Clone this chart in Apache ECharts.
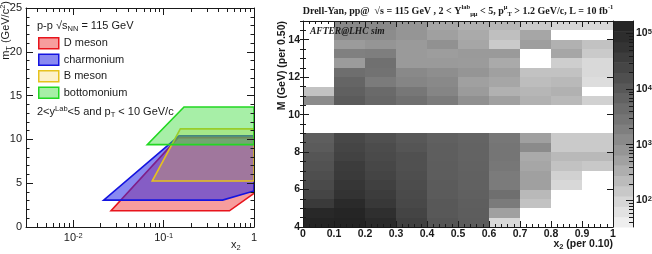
<!DOCTYPE html>
<html><head><meta charset="utf-8">
<script src="https://cdn.jsdelivr.net/npm/echarts@6/dist/echarts.min.js"></script>
<style>html,body{margin:0;padding:0;background:#fff}#c{width:652px;height:254px}</style>
</head><body><div id="c"></div>
<script>
// ---------- Left panel: kinematic coverage (x2 vs mT) ----------
const dMesonX      = [0.0262, 0.535, 1, 1, 0.145];
const dMesonY      = [1.85, 1.85, 3.83, 10.2, 10.2];
const charmoniumX  = [0.0217, 0.449, 1, 1, 0.148];
const charmoniumY  = [3.07, 3.07, 4.12, 10.4, 10.4];
const bMesonX      = [0.0748, 1, 1, 0.153];
const bMesonY      = [5.25, 5.25, 11.2, 11.2];
const bottomoniumX = [0.0659, 1, 1, 0.168];
const bottomoniumY = [9.4, 9.4, 13.7, 13.7];
const legendLabels = ['D meson', 'charmonium', 'B meson', 'bottomonium'];

// ---------- Right panel: Drell-Yan counts per (x2, M) bin ----------
const x2BinLow   = [0, 0.1, 0.2, 0.3, 0.4, 0.5, 0.6, 0.7, 0.8, 0.9];
const massBinLow = [4, 4.5, 5, 5.5, 6, 6.5, 7, 7.5, 8, 8.5, 10.5, 11, 11.5, 12, 12.5, 13, 13.5, 14, 14.5];
const dyX2_0 = [150000, 115000, 44000, 25000, 20000, 16600, 14000, 12000, 9500, 8000, 1200, 180, null, null, null, null, null, null, null];
const dyX2_1 = [160000, 140000, 105000, 63000, 52000, 44000, 40000, 29000, 25000, 22000, 9500, 7400, 5900, 4000, 660, 1850, 660, 1150, 1300];
const dyX2_2 = [105000, 80000, 48000, 40000, 32000, 26000, 23000, 20000, 18000, 15000, 5600, 4800, 2300, 3400, 3700, 2000, 800, 1150, 1300];
const dyX2_3 = [32000, 26000, 22000, 20000, 18000, 16500, 15000, 15000, 12000, 10500, 3700, 2700, 1500, 1300, 690, 690, 690, 800, 800];
const dyX2_4 = [12000, 10500, 10500, 9500, 9500, 8700, 8700, 8000, 8000, 7400, 2300, 1500, 1300, 1050, 690, 620, 950, 550, 450];
const dyX2_5 = [9000, 8500, 8000, 7500, 7000, 7000, 6800, 6500, 6500, 6200, 1000, 660, 550, 800, 660, 690, 450, 400, 310];
const dyX2_6 = [87, 550, 2300, 3800, 2300, 2300, 2700, 2900, 2900, 2700, 550, 310, 450, 550, 400, 690, 140, 200, 260];
const dyX2_7 = [null, null, 180, 240, 550, 550, 450, 400, 1200, 550, 310, 260, 210, 180, null, null, 600, 450, 140];
const dyX2_8 = [null, null, null, null, 90, 112, 180, 240, 140, 140, 240, 310, 240, 180, 123, 450, 310, null, 95];
const dyX2_9 = [null, null, null, null, null, null, 150, 240, 140, 140, 112, null, 76, 87, 87, 140, 180, null, 87];
const x2BinWidth = 0.1, massBinWidth = 0.5;
const zMin = 33, zMax = 168000;

// ---------- styling ----------
const SANS = "'Liberation Sans', Arial, sans-serif";
const SERIF = "'Liberation Serif', 'Times New Roman', serif";
const INK = '#1a1a1a';
const palette = ['#f4f4f4', '#d6d6d6', '#b4b4b4', '#959595', '#7a7a7a', '#626262', '#4a4a4a', '#343434', '#222222'];

const polys = [
  {name: legendLabels[0], xs: dMesonX, ys: dMesonY, fill: 'rgba(240,60,60,0.5)', stroke: '#e8141c'},
  {name: legendLabels[1], xs: charmoniumX, ys: charmoniumY, fill: 'rgba(40,40,230,0.55)', stroke: '#1414e0'},
  {name: legendLabels[2], xs: bMesonX, ys: bMesonY, fill: 'rgba(245,200,40,0.25)', stroke: '#e6c21e'},
  {name: legendLabels[3], xs: bottomoniumX, ys: bottomoniumY, fill: 'rgba(60,220,60,0.45)', stroke: '#22d822'}
];

function logLabel(v) {
  const e = Math.round(Math.log10(v));
  if (Math.abs(v / Math.pow(10, e) - 1) > 1e-6) return '';
  if (e === 0) return '1';
  return '10{sup|' + e + '}';
}
function crisp(v) { return Math.round(v) + 0.5; }

// log-axis minor tick positions (axis decoration)
function logMinor(lo, hi) {
  const out = [];
  for (let d = Math.floor(Math.log10(lo)); d <= Math.ceil(Math.log10(hi)); d++) {
    for (let k = 2; k <= 9; k++) {
      const v = k * Math.pow(10, d);
      if (v > lo * 1.02 && v < hi * 0.98) out.push([v, v]);
    }
  }
  return out;
}

const dyColumns = [dyX2_0, dyX2_1, dyX2_2, dyX2_3, dyX2_4, dyX2_5, dyX2_6, dyX2_7, dyX2_8, dyX2_9];
const heatData = [];
dyColumns.forEach((col, i) => col.forEach((n, j) => {
  if (n != null) heatData.push([x2BinLow[i], massBinLow[j], Math.log10(n), n]);
}));

const zLogMin = Math.log10(zMin), zLogMax = Math.log10(zMax);
const nBands = 20, bandData = [];
for (let b = 0; b < nBands; b++) {
  const lo = zLogMin + (zLogMax - zLogMin) * b / nBands;
  const hi = zLogMin + (zLogMax - zLogMin) * (b + 1) / nBands;
  bandData.push([Math.pow(10, lo), Math.pow(10, hi), (lo + hi) / 2]);
}

const chart = echarts.init(document.getElementById('c'), null, {renderer: 'canvas', width: 652, height: 254});

const tickStyle = {color: INK, width: 1};
const leftLabel = {fontFamily: SANS, fontSize: 11, color: INK};
const boldLabel = {fontFamily: SANS, fontSize: 10.5, fontWeight: 'bold', color: INK};

const series = [];
polys.forEach((p, idx) => {
  series.push({
    type: 'custom', name: p.name, coordinateSystem: 'cartesian2d', xAxisIndex: 0, yAxisIndex: 0,
    data: p.xs.map((x, i) => [x, p.ys[i]]), encode: {x: 0, y: 1}, silent: true, z: 2 + idx,
    itemStyle: {color: p.fill, borderColor: p.stroke},
    renderItem: (params, api) => {
      if (params.dataIndex !== 0) return null;
      const pts = p.xs.map((x, i) => api.coord([x, p.ys[i]]));
      return {type: 'polygon', shape: {points: pts}, style: {fill: p.fill, stroke: p.stroke, lineWidth: 1.6}};
    }
  });
});
// minor log ticks on the left panel (bottom and top)
series.push({
  type: 'custom', coordinateSystem: 'cartesian2d', xAxisIndex: 0, yAxisIndex: 0, silent: true, z: 20,
  data: logMinor(0.003, 1), encode: {x: 0, y: 1},
  renderItem: (params, api) => {
    const v = api.value(0);
    const b = api.coord([v, 0]), t = api.coord([v, 25]);
    const x = crisp(b[0]);
    return {type: 'group', children: [
      {type: 'line', shape: {x1: x, y1: b[1], x2: x, y2: b[1] - 4}, style: {stroke: INK, lineWidth: 1}},
      {type: 'line', shape: {x1: x, y1: t[1], x2: x, y2: t[1] + 4}, style: {stroke: INK, lineWidth: 1}}
    ]};
  }
});
// heat map cells
series.push({
  type: 'custom', coordinateSystem: 'cartesian2d', xAxisIndex: 2, yAxisIndex: 2, silent: true, z: 2,
  dimensions: ['x2', 'M', 'logN', 'N'], data: heatData, encode: {x: 0, y: 1},
  renderItem: (params, api) => {
    const x0 = api.value(0), y0 = api.value(1);
    const p0 = api.coord([x0, y0]), p1 = api.coord([x0 + x2BinWidth, y0 + massBinWidth]);
    const L = Math.round(p0[0]), R = Math.round(p1[0]), B = Math.round(p0[1]), T = Math.round(p1[1]);
    return {type: 'rect', shape: {x: L, y: T, width: R - L, height: B - T}, style: {fill: api.visual('color')}};
  }
});
// colour bar bands
series.push({
  type: 'custom', coordinateSystem: 'cartesian2d', xAxisIndex: 4, yAxisIndex: 6, silent: true, z: 2,
  dimensions: ['lo', 'hi', 'logN'], data: bandData, encode: {y: 0},
  renderItem: (params, api) => {
    const p0 = api.coord([0, api.value(0)]), p1 = api.coord([1, api.value(1)]);
    return {type: 'rect', shape: {x: p0[0], y: p1[1], width: p1[0] - p0[0], height: p0[1] - p1[1] + 0.5}, style: {fill: api.visual('color')}};
  }
});
// colour bar minor ticks
series.push({
  type: 'custom', coordinateSystem: 'cartesian2d', xAxisIndex: 4, yAxisIndex: 6, silent: true, z: 20,
  data: logMinor(zMin, zMax).map(d => [1, d[0]]), encode: {x: 0, y: 1},
  renderItem: (params, api) => {
    const p = api.coord([1, api.value(1)]);
    const y = crisp(p[1]);
    return {type: 'line', shape: {x1: p[0], y1: y, x2: p[0] - 4, y2: y}, style: {stroke: INK, lineWidth: 1}};
  }
});

const supRich = {sup: {fontSize: 7.5, verticalAlign: 'top', fontFamily: SANS, color: INK, lineHeight: 8}};
const boldSupRich = {sup: {fontSize: 7.5, fontWeight: 'bold', verticalAlign: 'top', fontFamily: SANS, color: INK, lineHeight: 8}};

function valAxis(extra) {
  return Object.assign({
    type: 'value', z: 10,
    axisLine: {show: true, onZero: false, lineStyle: tickStyle},
    axisTick: {show: true, inside: true, length: 7, lineStyle: tickStyle},
    splitLine: {show: false}
  }, extra);
}

const option = {
  animation: false,
  backgroundColor: '#ffffff',
  grid: [
    {left: 26, top: 8, width: 228, height: 219, outerBoundsMode: 'none', containLabel: false},
    {left: 303, top: 21, width: 310, height: 206, outerBoundsMode: 'none', containLabel: false},
    {left: 614, top: 21, width: 19, height: 206, outerBoundsMode: 'none', containLabel: false}
  ],
  xAxis: [
    valAxis({gridIndex: 0, type: 'log', logBase: 10, min: 0.003, max: 1, position: 'bottom',
      axisLabel: {show: true, margin: 5, showMinLabel: false, formatter: logLabel, rich: supRich, ...leftLabel}}),
    valAxis({gridIndex: 0, type: 'log', logBase: 10, min: 0.003, max: 1, position: 'top', axisLabel: {show: false}}),
    valAxis({gridIndex: 1, min: 0, max: 1, interval: 0.1, position: 'bottom',
      axisTick: {show: true, inside: true, length: 6, lineStyle: tickStyle},
      minorTick: {show: true, splitNumber: 5, length: 3, lineStyle: tickStyle},
      axisLabel: {show: true, margin: 2, formatter: v => String(Math.round(v * 10) / 10), ...boldLabel}}),
    valAxis({gridIndex: 1, min: 0, max: 1, interval: 0.1, position: 'top',
      axisTick: {show: true, inside: true, length: 6, lineStyle: tickStyle},
      minorTick: {show: true, splitNumber: 5, length: 3, lineStyle: tickStyle},
      axisLabel: {show: false}}),
    {gridIndex: 2, type: 'value', min: 0, max: 1, show: false}
  ],
  yAxis: [
    valAxis({gridIndex: 0, min: 0, max: 25, interval: 5, position: 'left',
      minorTick: {show: true, splitNumber: 5, length: 3.5, lineStyle: tickStyle},
      axisLabel: {show: true, margin: 4, ...leftLabel}}),
    valAxis({gridIndex: 0, min: 0, max: 25, interval: 5, position: 'right',
      minorTick: {show: true, splitNumber: 5, length: 3.5, lineStyle: tickStyle},
      axisLabel: {show: false}}),
    valAxis({gridIndex: 1, min: 4, max: 15, interval: 2, position: 'left',
      axisTick: {show: true, inside: true, length: 6, lineStyle: tickStyle},
      axisLabel: {show: true, margin: 3, showMaxLabel: false, ...boldLabel}}),
    valAxis({gridIndex: 1, min: 4, max: 15, interval: 0.5, position: 'left',
      axisLine: {show: false}, axisTick: {show: true, inside: true, length: 3, lineStyle: tickStyle},
      axisLabel: {show: false}}),
    valAxis({gridIndex: 1, min: 4, max: 15, interval: 2, position: 'right',
      axisTick: {show: true, inside: true, length: 6, lineStyle: tickStyle},
      axisLabel: {show: false}}),
    valAxis({gridIndex: 1, min: 4, max: 15, interval: 0.5, position: 'right',
      axisLine: {show: false}, axisTick: {show: true, inside: true, length: 3, lineStyle: tickStyle},
      axisLabel: {show: false}}),
    valAxis({gridIndex: 2, type: 'log', logBase: 10, min: zMin, max: zMax, position: 'right',
      axisTick: {show: true, inside: true, length: 7, lineStyle: tickStyle},
      axisLabel: {show: true, margin: 3, showMinLabel: false, showMaxLabel: false,
        formatter: logLabel, rich: boldSupRich, ...boldLabel}})
  ],
  visualMap: {
    type: 'continuous', show: false, seriesIndex: [5, 6], dimension: 2,
    min: zLogMin, max: zLogMax, inRange: {color: palette}, outOfRange: {color: palette[palette.length - 1]}
  },
  legend: {
    data: polys.map(p => ({name: p.name, itemStyle: {color: p.fill, borderColor: p.stroke, borderWidth: 1.5}})),
    orient: 'vertical', left: 38, top: 37, itemWidth: 20, itemHeight: 11, itemGap: 4, icon: 'rect',
    padding: 0, selectedMode: false,
    textStyle: {fontFamily: SANS, fontSize: 11, color: INK, lineHeight: 11}
  },
  graphic: [
    {type: 'text', x: 37, y: 26, z: 30, style: {
      text: 'p-p \u221As{sub|NN} = 115 GeV', fontFamily: SANS, fontSize: 11, fill: INK,
      verticalAlign: 'middle', textVerticalAlign: 'middle', lineHeight: 14,
      rich: {sub: {fontSize: 7.5, verticalAlign: 'bottom', fontFamily: SANS, lineHeight: 8}}}},
    {type: 'text', x: 37, y: 112, z: 30, style: {
      text: '2<y{sup|Lab}<5 and p{sub|T} < 10 GeV/c', fontFamily: SANS, fontSize: 11, fill: INK,
      verticalAlign: 'middle', textVerticalAlign: 'middle', lineHeight: 14,
      rich: {sup: {fontSize: 7.5, verticalAlign: 'top', fontFamily: SANS, lineHeight: 8},
             sub: {fontSize: 7.5, verticalAlign: 'bottom', fontFamily: SANS, lineHeight: 8}}}},
    {type: 'text', x: 6, y: 1, rotation: Math.PI / 2, z: 30, style: {
      text: 'm{sub|T} (GeV/c{sup|2})', fontFamily: SANS, fontSize: 11, fill: INK,
      align: 'right', textAlign: 'right', verticalAlign: 'middle', textVerticalAlign: 'middle', lineHeight: 14,
      rich: {sup: {fontSize: 7.5, verticalAlign: 'top', fontFamily: SANS, lineHeight: 8},
             sub: {fontSize: 7.5, verticalAlign: 'bottom', fontFamily: SANS, lineHeight: 8}}}},
    {type: 'text', x: 231, y: 245, z: 30, style: {
      text: 'x{sub|2}', fontFamily: SANS, fontSize: 11, fill: INK,
      verticalAlign: 'middle', textVerticalAlign: 'middle', lineHeight: 14,
      rich: {sub: {fontSize: 7.5, verticalAlign: 'bottom', fontFamily: SANS, lineHeight: 8}}}},
    {type: 'text', x: 458, y: 11, z: 30, style: {
      text: 'Drell-Yan, pp@  \u221As = 115 GeV , 2 < Y{sup|lab}{sub|\u03bc\u03bc} < 5, p{sup|\u03bc}{sub|T} > 1.2 GeV/c, L = 10 fb{sup|-1}',
      fontFamily: SERIF, fontSize: 10, fontWeight: 'bold', fill: INK,
      align: 'center', textAlign: 'center', verticalAlign: 'middle', textVerticalAlign: 'middle', lineHeight: 14,
      rich: {sup: {fontSize: 6.5, fontWeight: 'bold', verticalAlign: 'top', fontFamily: SERIF, lineHeight: 8},
             sub: {fontSize: 6.5, fontWeight: 'bold', verticalAlign: 'bottom', fontFamily: SERIF, lineHeight: 8}}}},
    {type: 'text', x: 310, y: 32, z: 30, style: {
      text: 'AFTER@LHC sim', fontFamily: SERIF, fontSize: 9.5, fontWeight: 'bold', fontStyle: 'italic', fill: INK,
      verticalAlign: 'middle', textVerticalAlign: 'middle'}},
    {type: 'text', x: 282, y: 21, rotation: Math.PI / 2, z: 30, style: {
      text: 'M (GeV) (per 0.50)', fontFamily: SANS, fontSize: 10.5, fontWeight: 'bold', fill: INK,
      align: 'right', textAlign: 'right', verticalAlign: 'middle', textVerticalAlign: 'middle'}},
    {type: 'text', x: 613, y: 244, z: 30, style: {
      text: 'x{sub|2} (per 0.10)', fontFamily: SANS, fontSize: 10.5, fontWeight: 'bold', fill: INK,
      align: 'right', textAlign: 'right', verticalAlign: 'middle', textVerticalAlign: 'middle', lineHeight: 13,
      rich: {sub: {fontSize: 7.5, fontWeight: 'bold', verticalAlign: 'bottom', fontFamily: SANS, lineHeight: 8}}}}
  ],
  series: series
};
chart.setOption(option);
</script>
</body></html>
